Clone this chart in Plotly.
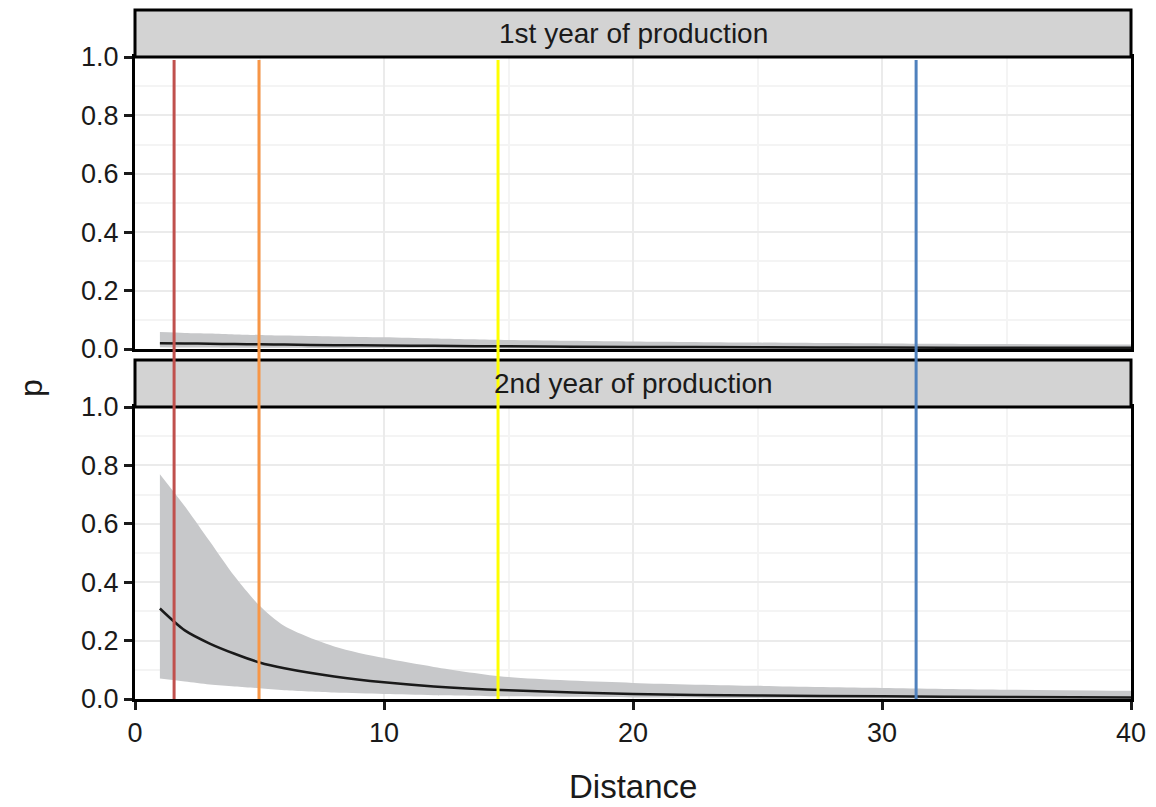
import plotly.graph_objects as go

# ---- data ----
distance = [1, 2, 3, 4, 5, 6, 8, 10, 12, 15, 20, 25, 30, 35, 40]

y1_mean = [0.020, 0.019, 0.018, 0.017, 0.016, 0.015, 0.013, 0.012, 0.011, 0.009, 0.007, 0.006, 0.005, 0.004, 0.004]
y1_upper = [0.058, 0.055, 0.053, 0.050, 0.048, 0.046, 0.043, 0.040, 0.036, 0.031, 0.026, 0.022, 0.019, 0.017, 0.015]
y1_lower = [0.006, 0.005, 0.005, 0.004, 0.004, 0.004, 0.003, 0.003, 0.002, 0.002, 0.001, 0.001, 0.001, 0.001, 0.001]

y2_mean = [0.31, 0.235, 0.19, 0.155, 0.125, 0.105, 0.077, 0.057, 0.043, 0.030, 0.017, 0.012, 0.009, 0.007, 0.005]
y2_upper = [0.77, 0.66, 0.54, 0.42, 0.32, 0.25, 0.18, 0.14, 0.11, 0.075, 0.055, 0.045, 0.038, 0.032, 0.028]
y2_lower = [0.07, 0.06, 0.05, 0.043, 0.037, 0.030, 0.022, 0.017, 0.013, 0.009, 0.005, 0.003, 0.002, 0.0015, 0.001]

panel_titles = ["1st year of production", "2nd year of production"]
vline_x = [1.57, 4.98, 14.58, 31.37]
vline_colors = ["#C0504D", "#F79646", "#FFFF00", "#4F81BD"]

x_ticks = [0, 10, 20, 30, 40]
y_ticks = [0.0, 0.2, 0.4, 0.6, 0.8, 1.0]

# ---- layout geometry ----
# page body adds an 8px offset; figure is sized so that content lands at reference pixels
OFF = 8
W, H = 1156 - OFF, 807 - OFF
ml = 135 - OFF
mr = W - (1131 - OFF)
mt = 10 - OFF
mb = H - (699 - OFF)
ph = 699 - 10  # plot area height in px (reference coords)
pw = 1131 - 135

def py(pix):
    # reference pixel row -> paper fraction
    return (699 - pix) / ph

def px(pix):
    return (pix - 135) / pw

top_dom = [py(349), py(57)]
bot_dom = [py(699), py(407)]
strips = [(py(57), py(10)), (py(407), py(360))]

ribbon_col = "#C7C8CA"
font_fam = "Liberation Sans, Arial, Helvetica, sans-serif"
txt_col = "#1a1a1a"

fig = go.Figure()

sets = [
    (y1_mean, y1_lower, y1_upper, "x", "y"),
    (y2_mean, y2_lower, y2_upper, "x2", "y2"),
]
for mean, lo, up, xa, ya in sets:
    fig.add_trace(go.Scatter(x=distance, y=lo, mode="lines",
                             line=dict(width=0, color=ribbon_col, shape="spline", smoothing=0.8),
                             xaxis=xa, yaxis=ya, showlegend=False, hoverinfo="skip"))
    fig.add_trace(go.Scatter(x=distance, y=up, mode="lines",
                             line=dict(width=0, color=ribbon_col, shape="spline", smoothing=0.8),
                             fill="tonexty", fillcolor=ribbon_col,
                             xaxis=xa, yaxis=ya, showlegend=False, hoverinfo="skip"))
    fig.add_trace(go.Scatter(x=distance, y=mean, mode="lines",
                             line=dict(width=2.5, color=txt_col, shape="spline", smoothing=0.8),
                             xaxis=xa, yaxis=ya, showlegend=False))

axis_common = dict(
    showline=True, linecolor="black", linewidth=3, mirror=True,
    ticklen=8, tickwidth=3, tickcolor=txt_col,
    showgrid=True, gridcolor="#EBEBEB", gridwidth=1.5,
    zeroline=False, automargin=False,
    tickfont=dict(family=font_fam, size=27, color=txt_col),
)

fig.update_layout(
    width=W, height=H, autosize=False,
    margin=dict(l=ml, r=mr, t=mt, b=mb, pad=0),
    paper_bgcolor="white", plot_bgcolor="white",
    showlegend=False,
    xaxis=dict(domain=[0, 1], anchor="y", range=[0, 40], tickvals=x_ticks, showticklabels=False,
               ticks="", minor=dict(showgrid=True, gridcolor="#F4F4F4", dtick=5, tick0=0),
               **axis_common),
    yaxis=dict(domain=top_dom, anchor="x", range=[0, 1], tickvals=y_ticks, tickformat=".1f",
               ticks="outside",
               minor=dict(showgrid=True, gridcolor="#F4F4F4", dtick=0.1, tick0=0),
               **axis_common),
    xaxis2=dict(domain=[0, 1], anchor="y2", range=[0, 40], tickvals=x_ticks, ticks="outside",
                minor=dict(showgrid=True, gridcolor="#F4F4F4", dtick=5, tick0=0),
                **axis_common),
    yaxis2=dict(domain=bot_dom, anchor="x2", range=[0, 1], tickvals=y_ticks, tickformat=".1f",
                ticks="outside",
                minor=dict(showgrid=True, gridcolor="#F4F4F4", dtick=0.1, tick0=0),
                **axis_common),
)

shapes = []
annotations = []
for (y0, y1), title in zip(strips, panel_titles):
    shapes.append(dict(type="rect", xref="paper", yref="paper", x0=0, x1=1, y0=y0, y1=y1,
                       fillcolor="#D3D3D3", line=dict(color="black", width=3), layer="above"))
    annotations.append(dict(xref="paper", yref="paper", x=0.5, y=(y0 + y1) / 2, text=title,
                            showarrow=False, xanchor="center", yanchor="middle",
                            font=dict(family=font_fam, size=28, color=txt_col)))

for xv, col in zip(vline_x, vline_colors):
    shapes.append(dict(type="line", xref="x2", yref="paper", x0=xv, x1=xv, y0=0, y1=py(60),
                       line=dict(color=col, width=3), layer="above"))

annotations.append(dict(xref="paper", yref="paper", x=px(633), y=py(806),
                        text="Distance", showarrow=False, xanchor="center", yanchor="bottom",
                        borderpad=0,
                        font=dict(family=font_fam, size=33, color=txt_col)))
annotations.append(dict(xref="paper", yref="paper", x=px(12), y=py(388),
                        text="p", showarrow=False, textangle=-90, xanchor="left", yanchor="middle",
                        borderpad=0,
                        font=dict(family=font_fam, size=32, color=txt_col)))

fig.update_layout(shapes=shapes, annotations=annotations)

fig.write_html("out.html")
